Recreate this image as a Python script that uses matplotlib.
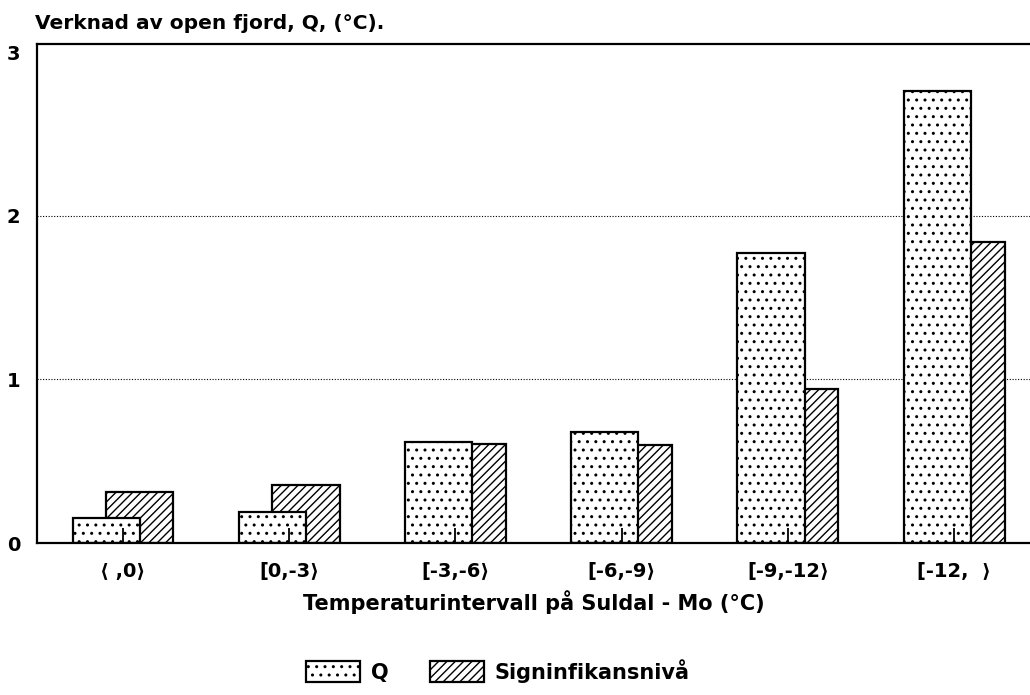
import matplotlib
matplotlib.use("Agg")
import matplotlib.pyplot as plt
import numpy as np

categories = ["⟨ ,0⟩", "[0,-3⟩", "[-3,-6⟩", "[-6,-9⟩", "[-9,-12⟩", "[-12,  ⟩"]
q_values = [0.15, 0.19, 0.62, 0.68, 1.77, 2.76]
sig_values = [0.31, 0.355, 0.605, 0.60, 0.94, 1.84]
series_names = ["Q", "Signinfikansnivå"]
y_ticks = [0, 1, 2, 3]

plt.rcParams['font.family'] = ['DejaVu Sans']
plt.rcParams['hatch.linewidth'] = 1.0

fig = plt.figure(figsize=(10.30, 6.95), dpi=100)
ax = fig.add_axes([0.036, 0.2187, 0.964, 0.718])

x = np.arange(len(categories))
w = 0.405
ax.bar(x + w / 4, sig_values, width=w, facecolor='white', edgecolor='black',
       hatch='////', linewidth=1.6, zorder=1.2, label=series_names[1])
ax.bar(x - w / 4, q_values, width=w, facecolor='white', edgecolor='black',
       hatch='..', linewidth=1.6, zorder=1.4, label=series_names[0])

for yv in [1, 2]:
    ax.axhline(yv, color='black', linestyle=(0, (1, 1.5)), linewidth=0.8, zorder=0.5)

ax.set_xlim(-0.517, 5.457)
ax.set_ylim(0, 3.05)
ax.set_yticks(y_ticks)
ax.set_yticklabels([str(v) for v in y_ticks], fontsize=14, fontweight='bold')
ax.set_xticks(x)
ax.set_xticklabels(categories, fontsize=14, fontweight='bold')
ax.set_axisbelow(False)
ax.tick_params(axis='x', direction='in', length=11, width=1.3, pad=14)
ax.tick_params(axis='y', direction='in', length=0, pad=12)
for s in ['left', 'bottom', 'top']:
    ax.spines[s].set_linewidth(1.6)
ax.spines['right'].set_visible(False)

ax.set_xlabel("Temperaturintervall på Suldal - Mo (°C)", fontsize=15,
              fontweight='bold', labelpad=6)
fig.text(0.034, 0.966, "Verknad av open fjord, Q, (°C).", fontsize=14.5,
         fontweight='bold', ha='left', va='center')

handles, labels = ax.get_legend_handles_labels()
leg = fig.legend(handles[::-1], labels[::-1], loc='center left',
                 bbox_to_anchor=(0.279, 0.035), ncol=2, frameon=False,
                 prop={'size': 15, 'weight': 'bold'}, handlelength=2.6,
                 handleheight=1.2, columnspacing=2.0, handletextpad=0.5)

fig.savefig("out.png", dpi=100)
